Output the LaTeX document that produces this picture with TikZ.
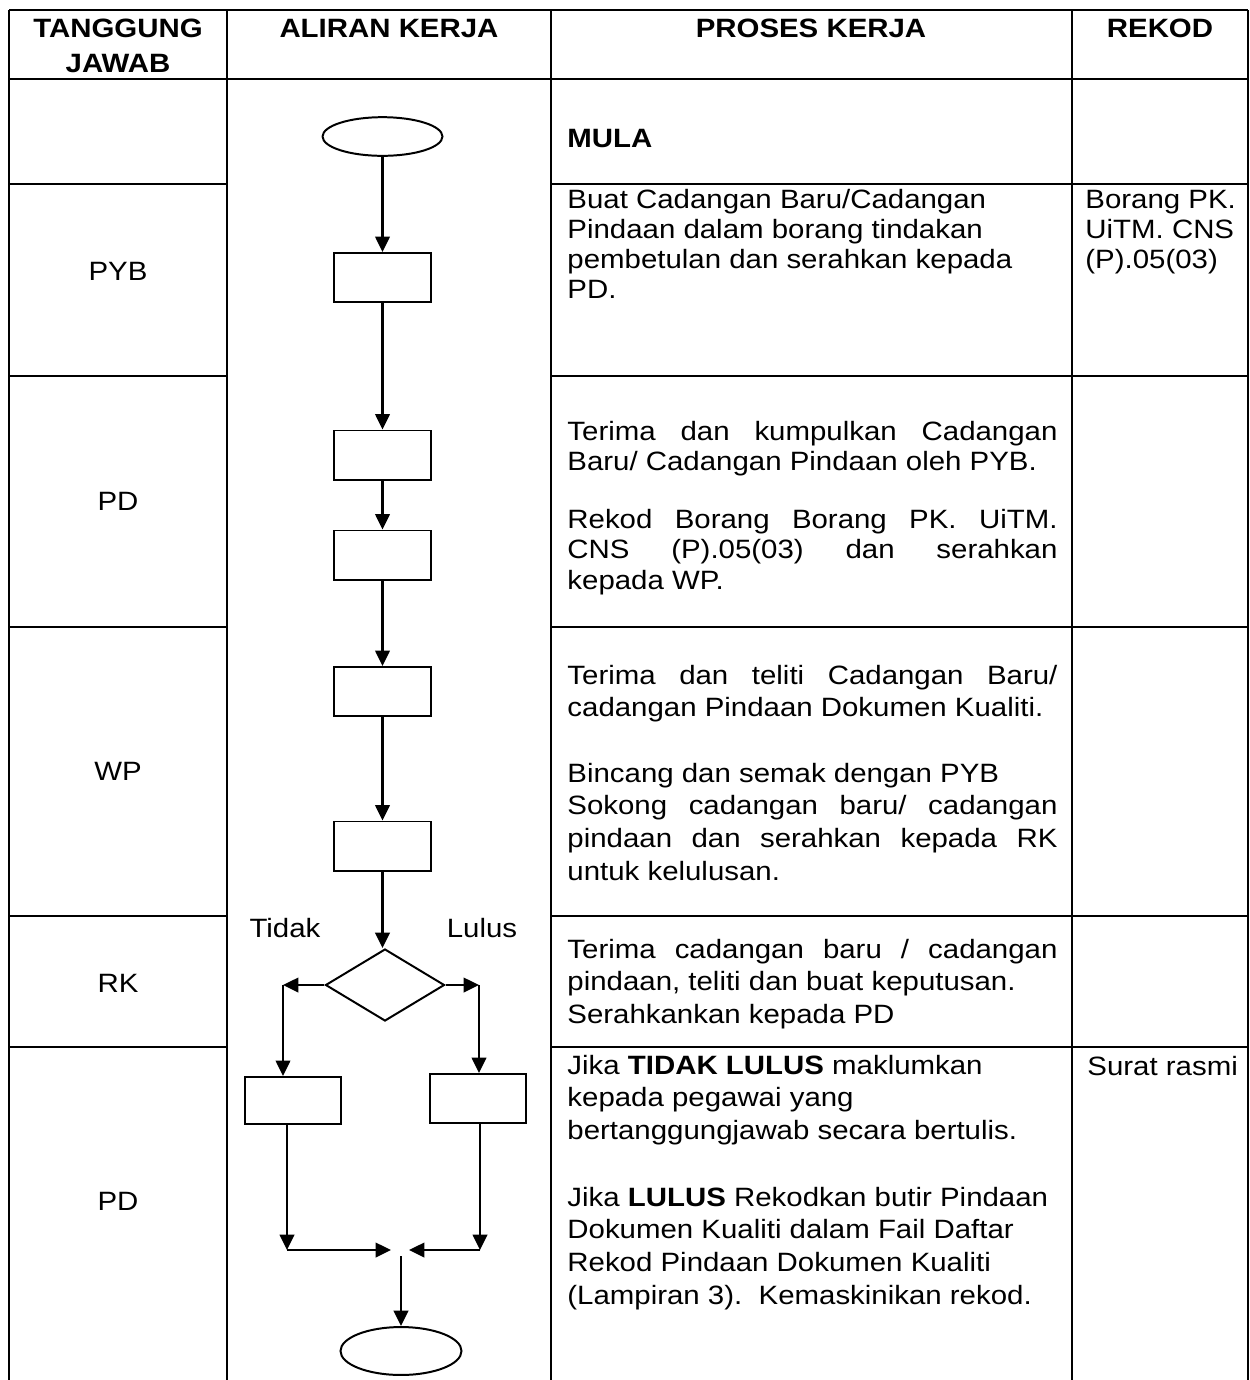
\documentclass[tikz,border=0pt]{standalone}
\usepackage{fontspec}
\setmainfont{Liberation Sans}[FakeStretch=1.11]
\usetikzlibrary{arrows.meta,shapes.geometric}
\newlength\pkw
\setlength\pkw{221.9pt}
\newcommand\jl[1]{\makebox[\pkw][s]{#1}}
\newcommand\blk[2]{\parbox[t]{250pt}{\fontsize{12}{#1}\selectfont\raggedright #2}}
\tikzset{
  tbl/.style={line width=1pt},
  flowbox/.style={draw, line width=0.9pt, inner sep=0pt, minimum width=43.5pt, minimum height=22.2pt},
  term/.style={draw, line width=0.9pt, ellipse, inner sep=0pt},
  arr/.style={line width=1pt, -{Triangle[length=7pt,width=6.6pt]}},
  txt/.style={inner sep=0pt, anchor=base west},
  lbl/.style={inner sep=0pt, anchor=base, font=\fontsize{12}{14}\selectfont},
  hdr/.style={inner sep=0pt, anchor=base, font=\fontsize{12}{16}\selectfont\bfseries}
}
\begin{document}
\begin{tikzpicture}[x=0.4528pt, y=-0.4528pt]
\fill[white] (0,0) rectangle (1250,1380);
\useasboundingbox (0,0) rectangle (1250,1380);

% table grid
\draw[tbl] (9,10) -- (1248,10);
\draw[tbl] (9,79) -- (1248,79);
\foreach \xx in {9,227,551,1072,1248} \draw[tbl] (\xx,10) -- (\xx,1380);
\foreach \yy in {184,376,627,916,1047} {
  \draw[tbl] (9,\yy) -- (227,\yy);
  \draw[tbl] (551,\yy) -- (1248,\yy);
}

% headers
\node[hdr] (h1) at (118,37) {\parbox[t]{100pt}{\centering\fontsize{12}{16}\selectfont\bfseries TANGGUNG\\JAWAB}};
\node[hdr] (h2) at (389,37) {ALIRAN KERJA};
\node[hdr] (h3) at (811,37) {PROSES KERJA};
\node[hdr] (h4) at (1160,37) {REKOD};

% responsibility column
\node[lbl] (t1) at (118,280) {PYB};
\node[lbl] (t2) at (118,510) {PD};
\node[lbl] (t3) at (118,780) {WP};
\node[lbl] (t4) at (118,992) {RK};
\node[lbl] (t5) at (118,1210) {PD};

% process column
\node[txt] (p0) at (567,147) {\fontsize{12}{14}\selectfont\bfseries MULA};
\node[txt] (p1) at (567,208) {\blk{13.6pt}{Buat Cadangan Baru/Cadangan\\Pindaan dalam borang tindakan\\pembetulan dan serahkan kepada\\PD.}};
\node[txt] (p2) at (567,440) {\blk{14pt}{\jl{Terima dan kumpulkan Cadangan}\\Baru/ Cadangan Pindaan oleh PYB.}};
\node[txt] (p3) at (567,528) {\blk{14pt}{\jl{Rekod Borang Borang PK. UiTM.}\\\jl{CNS (P).05(03) dan serahkan}\\kepada WP.}};
\node[txt] (p4) at (567,684) {\blk{14.9pt}{\jl{Terima dan teliti Cadangan Baru/}\\cadangan Pindaan Dokumen Kualiti.}};
\node[txt] (p5) at (567,782) {\blk{14.9pt}{Bincang dan semak dengan PYB\\\jl{Sokong cadangan baru/ cadangan}\\\jl{pindaan dan serahkan kepada RK}\\untuk kelulusan.}};
\node[txt] (p6) at (567,958) {\blk{14.9pt}{\jl{Terima cadangan baru / cadangan}\\pindaan, teliti dan buat keputusan.\\Serahkankan kepada PD}};
\node[txt] (p7) at (567,1074) {\blk{14.9pt}{Jika \textbf{TIDAK LULUS} maklumkan\\kepada pegawai yang\\bertanggungjawab secara bertulis.}};
\node[txt] (p8) at (567,1206) {\blk{14.9pt}{Jika \textbf{LULUS} Rekodkan butir Pindaan\\Dokumen Kualiti dalam Fail Daftar\\Rekod Pindaan Dokumen Kualiti\\(Lampiran 3).\ \ Kemaskinikan rekod.}};

% record column
\node[txt] (r01) at (1085,208) {\blk{13.6pt}{Borang PK.\\UiTM. CNS\\(P).05(03)}};
\node[txt] (r02) at (1087,1075) {\fontsize{12}{14}\selectfont Surat rasmi};

% flow chart
\node[term, minimum width=54.3pt, minimum height=17.5pt] (start) at (382.5,136.5) {};
\node[flowbox] (b1) at (382.5,277.5) {};
\node[flowbox] (b2) at (382.5,455) {};
\node[flowbox] (b3) at (382.5,555) {};
\node[flowbox] (b4) at (382.5,691.5) {};
\node[flowbox] (b5) at (382.5,846) {};
\node[draw, line width=0.9pt, diamond, inner sep=0pt, minimum width=53.9pt, minimum height=32.6pt] (dia) at (385,985) {};
\node[flowbox, minimum height=21.3pt] (bl1) at (293,1100.5) {};
\node[flowbox] (br1) at (478,1098.5) {};
\node[term, minimum width=54.8pt, minimum height=21.7pt] (fin) at (401,1351) {};

\node[lbl] (tidak) at (285,937) {Tidak};
\node[lbl] (lulus) at (482,937) {Lulus};

\coordinate (cl) at (283,985);
\coordinate (cr) at (479,985);
\coordinate (bl) at (287,1250);
\coordinate (br) at (480,1250);
\coordinate (ml) at (391,1250);
\coordinate (mr) at (409,1250);
\coordinate (mt) at (401,1256);

\draw[arr] (start.south) -- (b1.north);
\draw[arr] (b1.south) -- (b2.north);
\draw[arr] (b2.south) -- (b3.north);
\draw[arr] (b3.south) -- (b4.north);
\draw[arr] (b4.south) -- (b5.north);
\draw[arr] (b5.south) -- (b5.south |- dia.north);
\draw[arr] (dia.west) -- (cl);
\draw[arr] (cl) -- (cl |- bl1.north);
\draw[arr] (dia.east) -- (cr);
\draw[arr] (cr) -- (cr |- br1.north);
\draw[arr] (bl1.south -| bl) -- (bl);
\draw[arr] (bl) -- (ml);
\draw[arr] (br1.south -| br) -- (br);
\draw[arr] (br) -- (mr);
\draw[arr] (mt) -- (fin.north);
\end{tikzpicture}
\end{document}
